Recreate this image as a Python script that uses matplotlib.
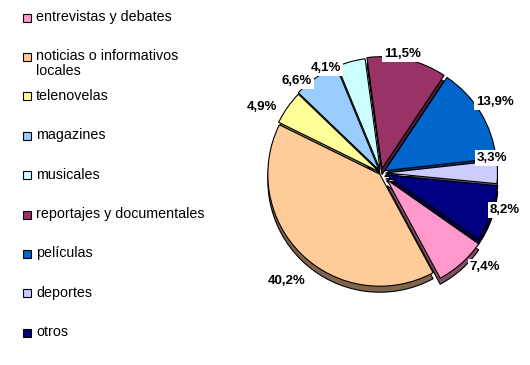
import numpy as np
import matplotlib
matplotlib.use("Agg")
import matplotlib.pyplot as plt
from matplotlib.colors import to_rgb

plt.rcParams['font.family'] = ['Liberation Sans', 'DejaVu Sans']

# data
categories = ['entrevistas y debates', 'noticias o informativos\nlocales', 'telenovelas',
              'magazines', 'musicales', 'reportajes y documentales', 'películas',
              'deportes', 'otros']
values = [7.4, 40.2, 4.9, 6.6, 4.1, 11.5, 13.9, 3.3, 8.2]
pct_labels = ['7,4%', '40,2%', '4,9%', '6,6%', '4,1%', '11,5%', '13,9%', '3,3%', '8,2%']
colors = ['#FF99CC', '#FFCC99', '#FFFF99', '#99CCFF', '#CCFFFF', '#993366',
          '#0066CC', '#CCCCFF', '#000080']

# styling / layout (pixels, y measured from top)
explode = [0.08, 0.015, 0.02, 0.03, 0.03, 0.04, 0.04, 0.04, 0.05]  # fraction of radius
label_xy = [(485, 267), (287, 281), (262, 107), (297, 81), (326, 68),
            (403, 54), (495, 102), (492, 158), (505, 210)]
cx, cy, rad, depth = 381, 173, 112, 6
W, H = 530, 365

fig = plt.figure(figsize=(W / 100, H / 100), dpi=100)
ax = fig.add_axes([0, 0, 1, 1])

# pie() takes explode in data units, here pixels
expl = [e * rad for e in explode]

# side of the 3d pie: darker copy shifted down
dark = [tuple(c * 0.5 for c in to_rgb(col)) for col in colors]
ax.pie(values, colors=dark, explode=expl, startangle=-35, counterclock=False,
       center=(cx, H - cy - depth), radius=rad, frame=True,
       wedgeprops=dict(edgecolor='black', linewidth=0.8))
ax.pie(values, colors=colors, explode=expl, startangle=-35, counterclock=False,
       center=(cx, H - cy), radius=rad, frame=True,
       wedgeprops=dict(edgecolor='black', linewidth=0.8))
ax.set_xlim(0, W)
ax.set_ylim(0, H)
ax.axis('off')

for txt, (x, y) in zip(pct_labels, label_xy):
    ax.text(x, H - y, txt, ha='center', va='center', fontsize=9.5, fontweight='bold',
            bbox=dict(facecolor='white', edgecolor='none', pad=1.5))

# legend, Excel style
for i, (lab, col) in enumerate(zip(categories, colors)):
    y = 17.5 + 39.4 * i
    ax.add_patch(plt.Rectangle((23, H - y - 4), 8, 8, facecolor=col,
                               edgecolor='black', linewidth=0.8))
    ax.text(36, H - y + 7.5, lab, ha='left', va='top', fontsize=10.3, linespacing=1.05)

fig.savefig('out.png', dpi=100)
